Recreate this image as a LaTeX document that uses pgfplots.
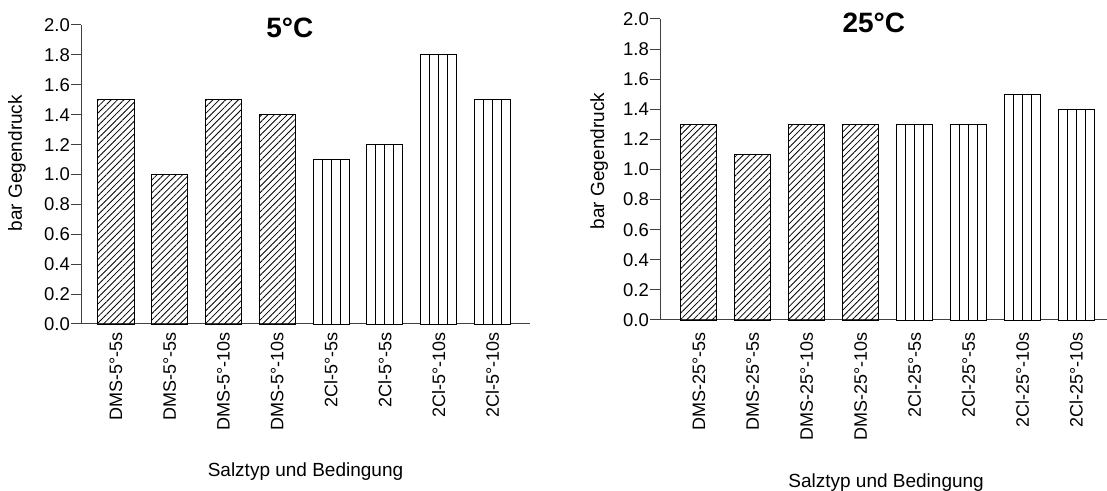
\documentclass[border=0pt]{standalone}
\usepackage{pgfplots}
\pgfplotsset{compat=1.18}
\usepackage{pgfplotstable}
\usepackage{fontspec}
\setmainfont{Liberation Sans}
\usetikzlibrary{patterns.meta}

% Gegendruck in bar, one table per salt type and temperature
\pgfplotstableread{
x y
0 1.5
1 1.0
2 1.5
3 1.4
}\dmsfive
\pgfplotstableread{
x y
4 1.1
5 1.2
6 1.8
7 1.5
}\clfive
\pgfplotstableread{
x y
0 1.3
1 1.1
2 1.3
3 1.3
}\dmstwentyfive
\pgfplotstableread{
x y
4 1.3
5 1.3
6 1.5
7 1.4
}\cltwentyfive

\newcommand\barw{0.67}
\newcommand\quarter{0.1675}

\pgfplotsset{
  panel/.style={
    scale only axis,
    ymin=0, ymax=2.0,
    ytick={0,0.2,...,2.0},
    axis x line=bottom, axis y line=left,
    axis line style={-, black!75, line width=1bp},
    tick align=outside,
    major tick length=10bp,
    ytick style={black!75, line width=1bp},
    xtick style={draw=none},
    xtick={0,...,7},
    yticklabel style={font=\fontsize{18.5bp}{21bp}\selectfont, inner sep=1bp},
    xticklabel style={font=\fontsize{18bp}{21bp}\selectfont, rotate=90, anchor=east, inner sep=0pt},
    /pgf/number format/assume math mode=true,
    /pgf/number format/.cd, fixed, fixed zerofill, precision=1, /pgfplots/.cd,
    label style={font=\fontsize{19bp}{22bp}\selectfont},
    title style={font=\fontsize{28bp}{31bp}\selectfont\bfseries, anchor=center},
    ylabel={bar Gegendruck},
    xlabel={Salztyp und Bedingung},
    clip=false,
  },
  hatched/.style={ybar, bar shift=0pt, bar width=\barw, draw=black, line width=0.9bp,
    pattern={Lines[angle=45, distance=4.5bp, line width=0.8bp]}, pattern color=black},
  striped/.style={ybar, bar shift=0pt, bar width=\barw, draw=black, line width=0.9bp, fill=white},
  divider/.style={ycomb, black, line width=0.9bp, no markers},
}

\begin{document}
\begin{tikzpicture}[x=1bp, y=1bp]
\useasboundingbox (0,0) rectangle (1107,491);

% 5 degC
\begin{axis}[panel,
  at={(81bp,167bp)}, anchor=south west,
  width=449bp, height=299bp,
  xmin=-0.65, xmax=7.7,
  xticklabel shift=-2bp,
  xticklabels={DMS-5°-5s, DMS-5°-5s, DMS-5°-10s, DMS-5°-10s, 2Cl-5°-5s, 2Cl-5°-5s, 2Cl-5°-10s, 2Cl-5°-10s},
  title={5°C},
  title style={at={(axis description cs:0.465,0.97)}},
  xlabel style={at={(axis description cs:0.5,-0.492)}, anchor=center},
  ylabel style={at={(axis description cs:-0.1425,0.538)}, anchor=center},
]
\addplot[hatched] table {\dmsfive};
\addplot[striped] table {\clfive};
\addplot[divider] table[x expr=\thisrow{x}-\quarter] {\clfive};
\addplot[divider] table[x=x] {\clfive};
\addplot[divider] table[x expr=\thisrow{x}+\quarter] {\clfive};
\end{axis}

% 25 degC
\begin{axis}[panel,
  at={(660bp,171bp)}, anchor=south west,
  width=454bp, height=301bp,
  xmin=-0.72, xmax=7.7,
  xticklabel shift=2bp,
  xticklabels={DMS-25°-5s, DMS-25°-5s, DMS-25°-10s, DMS-25°-10s, 2Cl-25°-5s, 2Cl-25°-5s, 2Cl-25°-10s, 2Cl-25°-10s},
  title={25°C},
  title style={at={(axis description cs:0.471,0.967)}},
  xlabel style={at={(axis description cs:0.498,-0.54)}, anchor=center},
  ylabel style={at={(axis description cs:-0.134,0.528)}, anchor=center},
]
\addplot[hatched] table {\dmstwentyfive};
\addplot[striped] table {\cltwentyfive};
\addplot[divider] table[x expr=\thisrow{x}-\quarter] {\cltwentyfive};
\addplot[divider] table[x=x] {\cltwentyfive};
\addplot[divider] table[x expr=\thisrow{x}+\quarter] {\cltwentyfive};
\end{axis}
\end{tikzpicture}
\end{document}
